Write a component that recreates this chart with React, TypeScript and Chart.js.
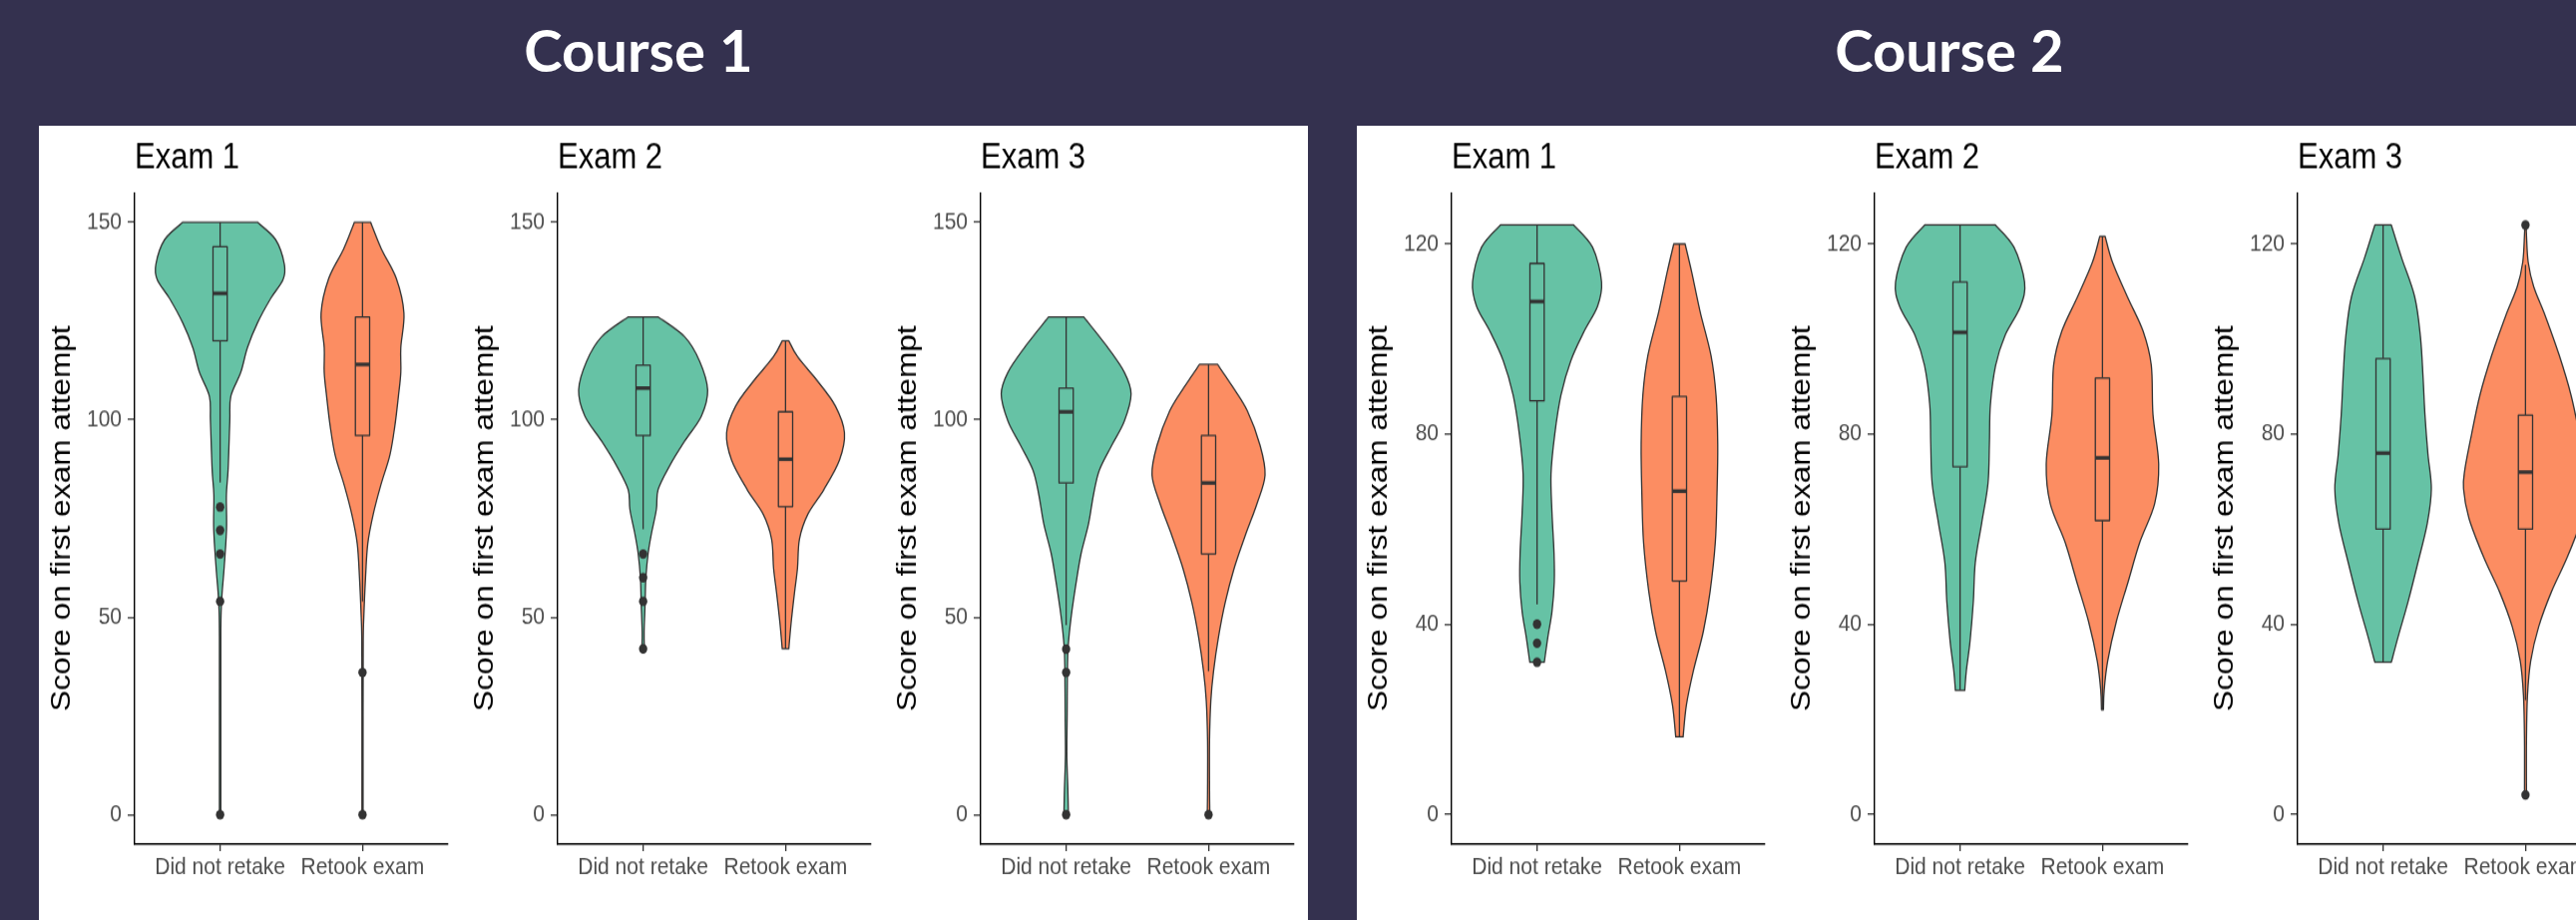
import React, { useEffect, useRef } from 'react';
import { Chart, registerables } from 'chart.js';

Chart.register(...registerables);

// ---------- data ----------
const categories = ['Did not retake', 'Retook exam'];
const courseTitles = ['Course 1', 'Course 2'];
const examTitles = ['Exam 1', 'Exam 2', 'Exam 3'];
const yAxisTitle = 'Score on first exam attempt';
const course1Ticks = [0, 50, 100, 150];
const course2Ticks = [0, 40, 80, 120];
const course1Range = [-7.5, 157.5];
const course2Range = [-6.3, 130.8];

// violin profiles: score levels (top→bottom) and half-widths in category units
const c1e1NoY = [150, 145.6, 139.4, 135.5, 130.7, 124.5, 118.3, 112, 105.9, 99.7, 87.3, 81, 72.3, 62.4, 56.2, 51.2, 45, 25, 0];
const c1e1NoW = [0.262, 0.39, 0.451, 0.442, 0.355, 0.262, 0.192, 0.145, 0.075, 0.068, 0.056, 0.044, 0.045, 0.028, 0.014, 0.007, 0.005, 0.005, 0.005];
const c1e1ReY = [150, 143.2, 135.7, 127, 118.3, 112, 105.9, 98.4, 91, 83.5, 76, 68.6, 59.9, 50, 43.7, 25, 0];
const c1e1ReW = [0.057, 0.133, 0.238, 0.291, 0.269, 0.269, 0.252, 0.227, 0.192, 0.129, 0.075, 0.037, 0.021, 0.009, 0.005, 0.004, 0.004];

const c1e2NoY = [126, 121, 114.8, 107.5, 100.9, 94.6, 88.4, 82.3, 77.3, 71.1, 66.1, 59.9, 53.7, 46.3, 42];
const c1e2NoW = [0.107, 0.292, 0.397, 0.453, 0.409, 0.292, 0.187, 0.105, 0.093, 0.058, 0.035, 0.019, 0.014, 0.007, 0.009];
const c1e2ReY = [120, 115.9, 109.7, 103.5, 96.7, 89.8, 82.3, 76.1, 69.8, 62.4, 56.2, 48.8, 42];
const c1e2ReW = [0.023, 0.086, 0.227, 0.35, 0.414, 0.379, 0.269, 0.157, 0.098, 0.084, 0.063, 0.04, 0.023];

const c1e3NoY = [126, 118.3, 112, 106.5, 99.7, 93.5, 87.3, 81, 73.6, 66.1, 58.7, 50, 42.5, 36.3, 25, 15, 6.5, 0];
const c1e3NoW = [0.124, 0.292, 0.409, 0.456, 0.409, 0.32, 0.234, 0.192, 0.157, 0.105, 0.07, 0.035, 0.014, 0.009, 0.007, 0.005, 0.012, 0.016];
const c1e3ReY = [114, 108.4, 102.2, 93.5, 86, 78.6, 71.1, 62.4, 53.7, 45, 36.3, 28.8, 18.9, 6.5, 0];
const c1e3ReW = [0.063, 0.168, 0.273, 0.362, 0.397, 0.339, 0.262, 0.18, 0.117, 0.07, 0.035, 0.016, 0.007, 0.007, 0.009];

const c2e1NoY = [124, 119.3, 112, 106.9, 101.7, 95.5, 88.2, 79.9, 71.6, 63.4, 55.1, 48.9, 42.7, 37.5, 32];
const c2e1NoW = [0.257, 0.39, 0.453, 0.425, 0.332, 0.238, 0.168, 0.124, 0.098, 0.105, 0.119, 0.121, 0.105, 0.077, 0.051];
const c2e1ReY = [120, 114.1, 105.8, 96.5, 88.2, 77.9, 67.5, 57.2, 46.8, 38.5, 30.2, 23, 16.3];
const c2e1ReW = [0.04, 0.086, 0.145, 0.222, 0.257, 0.269, 0.264, 0.252, 0.215, 0.168, 0.098, 0.049, 0.026];

const c2e2NoY = [124, 119.3, 112, 106.9, 100.7, 94.5, 86.2, 77.9, 69.6, 61.3, 53, 44.7, 36.4, 30.2, 26.1];
const c2e2NoW = [0.248, 0.379, 0.453, 0.425, 0.315, 0.25, 0.213, 0.206, 0.196, 0.152, 0.107, 0.093, 0.07, 0.044, 0.033];
const c2e2ReY = [121.6, 116.2, 108.9, 101.7, 94.5, 84.1, 73.7, 65.4, 57.2, 48.9, 40.6, 32.3, 26.1, 22];
const c2e2ReW = [0.019, 0.07, 0.175, 0.285, 0.343, 0.355, 0.395, 0.367, 0.262, 0.18, 0.098, 0.037, 0.012, 0.007];

const c2e3NoY = [124, 117.2, 108.9, 100.6, 92.4, 84.1, 75.8, 68.5, 61.3, 53, 44.7, 37.5, 32];
const c2e3NoW = [0.058, 0.129, 0.222, 0.262, 0.28, 0.294, 0.315, 0.339, 0.311, 0.245, 0.175, 0.107, 0.058];
const c2e3ReY = [124, 121.9, 116.2, 111, 104.8, 96.5, 88.2, 79.9, 72.7, 68.5, 62.3, 54, 46.8, 39.5, 32.3, 25, 15.7, 4.1];
const c2e3ReW = [0.005, 0.007, 0.019, 0.058, 0.14, 0.238, 0.32, 0.379, 0.425, 0.435, 0.397, 0.292, 0.182, 0.093, 0.037, 0.014, 0.007, 0.007];

// box stats: [lower whisker, Q1, median, Q3, upper whisker]
const c1e1NoBox = [84.1, 120, 132, 143.8, 150];
const c1e1ReBox = [54, 96, 114, 126, 150];
const c1e2NoBox = [72.3, 96, 108, 113.8, 126];
const c1e2ReBox = [42, 78, 90, 102, 120];
const c1e3NoBox = [48, 84, 102, 108, 126];
const c1e3ReBox = [36.3, 66, 84, 96, 114];
const c2e1NoBox = [44.2, 87, 107.9, 115.9, 124];
const c2e1ReBox = [16.3, 49.1, 68, 87.9, 120];
const c2e2NoBox = [26.1, 73.1, 101.4, 112, 124];
const c2e2ReBox = [22, 61.8, 75, 91.8, 121.6];
const c2e3NoBox = [32, 60, 76, 95.9, 124];
const c2e3ReBox = [24, 60, 72, 84, 115.6];

// outliers
const c1e1NoOut = [77.9, 72, 66, 54, 0];
const c1e1ReOut = [36, 0];
const c1e2NoOut = [66, 60, 54, 42];
const c1e2ReOut: number[] = [];
const c1e3NoOut = [41.9, 36, 0];
const c1e3ReOut = [0];
const c2e1NoOut = [40, 36, 32];
const c2e1ReOut: number[] = [];
const c2e2NoOut: number[] = [];
const c2e2ReOut: number[] = [];
const c2e3NoOut: number[] = [];
const c2e3ReOut = [124, 4.1];

// ---------- style ----------
const FONT = '"Liberation Sans", Arial, Helvetica, sans-serif';
const groupColors = ['#66C2A5', '#FC8D62'];
const NAVY = '#34314f';
const STRETCH = 1.15; // vertical stretch of the original ggplot images
const CSS_H = 796;
const INT_H = Math.round(CSS_H / STRETCH);
const CANVAS_W = 424;

type Group = { y: number[]; w: number[]; box: number[]; out: number[] };
type Panel = { title: string; ticks: number[]; range: number[]; left: number; groups: Group[] };

const panels: Panel[] = [
  { title: examTitles[0], ticks: course1Ticks, range: course1Range, left: 39,
    groups: [{ y: c1e1NoY, w: c1e1NoW, box: c1e1NoBox, out: c1e1NoOut }, { y: c1e1ReY, w: c1e1ReW, box: c1e1ReBox, out: c1e1ReOut }] },
  { title: examTitles[1], ticks: course1Ticks, range: course1Range, left: 463,
    groups: [{ y: c1e2NoY, w: c1e2NoW, box: c1e2NoBox, out: c1e2NoOut }, { y: c1e2ReY, w: c1e2ReW, box: c1e2ReBox, out: c1e2ReOut }] },
  { title: examTitles[2], ticks: course1Ticks, range: course1Range, left: 887,
    groups: [{ y: c1e3NoY, w: c1e3NoW, box: c1e3NoBox, out: c1e3NoOut }, { y: c1e3ReY, w: c1e3ReW, box: c1e3ReBox, out: c1e3ReOut }] },
  { title: examTitles[0], ticks: course2Ticks, range: course2Range, left: 1359,
    groups: [{ y: c2e1NoY, w: c2e1NoW, box: c2e1NoBox, out: c2e1NoOut }, { y: c2e1ReY, w: c2e1ReW, box: c2e1ReBox, out: c2e1ReOut }] },
  { title: examTitles[1], ticks: course2Ticks, range: course2Range, left: 1783,
    groups: [{ y: c2e2NoY, w: c2e2NoW, box: c2e2NoBox, out: c2e2NoOut }, { y: c2e2ReY, w: c2e2ReW, box: c2e2ReBox, out: c2e2ReOut }] },
  { title: examTitles[2], ticks: course2Ticks, range: course2Range, left: 2207,
    groups: [{ y: c2e3NoY, w: c2e3NoW, box: c2e3NoBox, out: c2e3NoOut }, { y: c2e3ReY, w: c2e3ReW, box: c2e3ReBox, out: c2e3ReOut }] },
];

function spline(ctx: CanvasRenderingContext2D, p: { x: number; y: number }[]) {
  const t = 1 / 6;
  for (let i = 0; i < p.length - 1; i++) {
    const p0 = p[i - 1] || p[i];
    const p1 = p[i];
    const p2 = p[i + 1];
    const p3 = p[i + 2] || p2;
    ctx.bezierCurveTo(
      p1.x + (p2.x - p0.x) * t, p1.y + (p2.y - p0.y) * t,
      p2.x - (p3.x - p1.x) * t, p2.y - (p3.y - p1.y) * t,
      p2.x, p2.y
    );
  }
}

const violinPlugin = {
  id: 'violins',
  beforeDatasetsDraw(chart: any, _args: any, opts: any) {
    const { ctx } = chart;
    const xs = chart.scales.x;
    const ys = chart.scales.y;
    const groups: Group[] = opts.groups || [];
    groups.forEach((g, i) => {
      const c = i + 1;
      const R = g.y.map((v, k) => ({ x: xs.getPixelForValue(c + g.w[k]), y: ys.getPixelForValue(v) }));
      const L = g.y.map((v, k) => ({ x: xs.getPixelForValue(c - g.w[k]), y: ys.getPixelForValue(v) }));
      ctx.save();
      ctx.beginPath();
      ctx.moveTo(L[0].x, L[0].y);
      ctx.lineTo(R[0].x, R[0].y);
      spline(ctx, R);
      ctx.lineTo(L[L.length - 1].x, L[L.length - 1].y);
      spline(ctx, L.slice().reverse());
      ctx.closePath();
      ctx.fillStyle = groupColors[i];
      ctx.fill();
      ctx.strokeStyle = '#333333';
      ctx.lineWidth = 1.3;
      ctx.lineJoin = 'round';
      ctx.stroke();

      const [lo, q1, med, q3, hi] = g.box;
      const xc = xs.getPixelForValue(c);
      const xl = xs.getPixelForValue(c - 0.05);
      const xr = xs.getPixelForValue(c + 0.05);
      ctx.beginPath();
      ctx.moveTo(xc, ys.getPixelForValue(q3));
      ctx.lineTo(xc, ys.getPixelForValue(hi));
      ctx.moveTo(xc, ys.getPixelForValue(q1));
      ctx.lineTo(xc, ys.getPixelForValue(lo));
      ctx.lineWidth = 1.3;
      ctx.stroke();
      const yTop = ys.getPixelForValue(q3);
      const yBot = ys.getPixelForValue(q1);
      ctx.fillStyle = groupColors[i];
      ctx.fillRect(xl, yTop, xr - xl, yBot - yTop);
      ctx.strokeRect(xl, yTop, xr - xl, yBot - yTop);
      ctx.beginPath();
      ctx.moveTo(xl, ys.getPixelForValue(med));
      ctx.lineTo(xr, ys.getPixelForValue(med));
      ctx.lineWidth = 3.2;
      ctx.stroke();
      ctx.restore();
    });
  },
  afterDraw(chart: any, _args: any, opts: any) {
    const { ctx, chartArea } = chart;
    ctx.save();
    ctx.fillStyle = '#000000';
    ctx.font = `31px ${FONT}`;
    ctx.textAlign = 'left';
    ctx.textBaseline = 'alphabetic';
    ctx.fillText(opts.title || '', chartArea.left, 36.8);
    ctx.restore();
  },
};

function Subplot({ panel }: { panel: Panel }) {
  const ref = useRef<HTMLCanvasElement | null>(null);
  useEffect(() => {
    if (!ref.current) return;
    const datasets = panel.groups.map((g, i) => ({
      data: g.out.map((v) => ({ x: i + 1, y: v })),
      pointRadius: 4.2,
      pointBackgroundColor: '#333333',
      pointBorderWidth: 0,
      showLine: false,
    }));
    const tickFont = { family: FONT, size: 21 };
    const chart = new Chart(ref.current, {
      type: 'scatter',
      data: { datasets },
      plugins: [violinPlugin],
      options: {
        responsive: false,
        animation: false,
        events: [],
        layout: { padding: { top: 58.3, right: 14, left: 0, bottom: 0 } },
        plugins: {
          legend: { display: false },
          tooltip: { enabled: false },
          violins: { groups: panel.groups, title: panel.title },
        } as any,
        scales: {
          x: {
            type: 'linear',
            min: 0.4,
            max: 2.6,
            afterBuildTicks: (s: any) => { s.ticks = categories.map((_, i) => ({ value: i + 1 })); },
            afterFit: (s: any) => { s.height = INT_H - 626; },
            ticks: {
              callback: (v: any) => categories[Math.round(Number(v)) - 1] ?? '',
              autoSkip: false,
              maxRotation: 0,
              minRotation: 0,
              color: '#4D4D4D',
              font: tickFont,
              padding: 2,
            },
            grid: { display: true, drawOnChartArea: false, drawTicks: true, tickLength: 6, color: '#333333', lineWidth: 1.3 },
            border: { display: true, color: '#000000', width: 1.5 },
          },
          y: {
            type: 'linear',
            min: panel.range[0],
            max: panel.range[1],
            afterBuildTicks: (s: any) => { s.ticks = panel.ticks.map((v) => ({ value: v })); },
            afterFit: (s: any) => { s.width = 96; },
            ticks: { color: '#4D4D4D', font: tickFont, padding: 6, callback: (v: any) => String(v) },
            grid: { display: true, drawOnChartArea: false, drawTicks: true, tickLength: 7, color: '#333333', lineWidth: 1.3 },
            border: { display: true, color: '#000000', width: 1.4 },
            title: {
              display: true,
              text: yAxisTitle,
              color: '#000000',
              font: { family: FONT, size: 27.5 },
              padding: { top: 6.6, bottom: 0 },
            },
          },
        },
      } as any,
    });
    return () => chart.destroy();
  }, [panel]);
  return (
    <canvas
      ref={ref}
      width={CANVAS_W}
      height={INT_H}
      style={{ position: 'absolute', left: panel.left, top: 126, width: CANVAS_W, height: CSS_H }}
    />
  );
}

export default function App() {
  const titleStyle = (center: number): React.CSSProperties => ({
    position: 'absolute',
    left: center - 300,
    width: 600,
    top: 21,
    textAlign: 'center',
    color: '#ffffff',
    fontFamily: 'Lato, "Open Sans", sans-serif',
    fontWeight: 700,
    fontSize: 58,
    lineHeight: '58px',
  });
  return (
    <div style={{ position: 'fixed', left: 0, top: 0, width: 2582, height: 922, overflow: 'hidden', background: NAVY }}>
      <div style={titleStyle(640)}>{courseTitles[0]}</div>
      <div style={titleStyle(1954)}>{courseTitles[1]}</div>
      <div style={{ position: 'absolute', left: 39, top: 126, width: 1272, height: 796, background: '#ffffff' }} />
      <div style={{ position: 'absolute', left: 1360, top: 126, width: 1222, height: 796, background: '#ffffff' }} />
      {panels.map((p, i) => (
        <Subplot key={i} panel={p} />
      ))}
    </div>
  );
}
